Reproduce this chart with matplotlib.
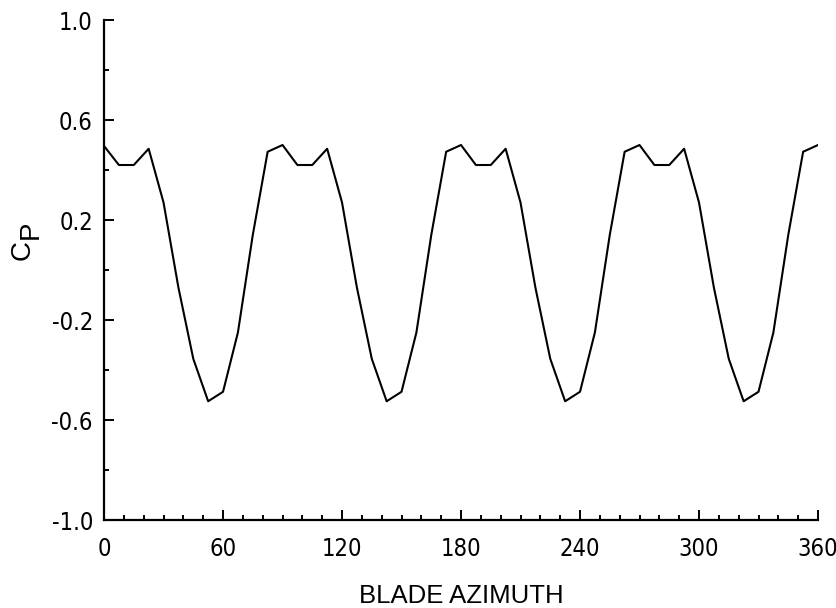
import numpy as np
import matplotlib.pyplot as plt
from matplotlib import font_manager
from matplotlib.ticker import MultipleLocator

# blade azimuth (deg), sampled every 7.5 deg
azimuth = [0, 7.5, 15, 22.5, 30, 37.5, 45, 52.5, 60, 67.5, 75, 82.5,
           90, 97.5, 105, 112.5, 120, 127.5, 135, 142.5, 150, 157.5, 165, 172.5,
           180, 187.5, 195, 202.5, 210, 217.5, 225, 232.5, 240, 247.5, 255, 262.5,
           270, 277.5, 285, 292.5, 300, 307.5, 315, 322.5, 330, 337.5, 345, 352.5,
           360]
cp = [0.496, 0.42, 0.42, 0.485, 0.27, -0.07, -0.355, -0.525, -0.487, -0.25, 0.14, 0.473,
      0.50, 0.42, 0.42, 0.485, 0.27, -0.07, -0.355, -0.525, -0.487, -0.25, 0.14, 0.473,
      0.50, 0.42, 0.42, 0.485, 0.27, -0.07, -0.355, -0.525, -0.487, -0.25, 0.14, 0.473,
      0.50, 0.42, 0.42, 0.485, 0.27, -0.07, -0.355, -0.525, -0.487, -0.25, 0.14, 0.473,
      0.50]

x_ticks = [0, 60, 120, 180, 240, 300, 360]
y_ticks = [-1.0, -0.6, -0.2, 0.2, 0.6, 1.0]


def narrow_font():
    # look for a condensed sans face for the tick numbers
    fl = font_manager.fontManager.ttflist
    for f in fl:
        if f.name == "Liberation Sans Narrow" and f.weight in (400, "normal") and f.style == "normal":
            return font_manager.FontProperties(fname=f.fname)
    for f in fl:
        if f.name == "DejaVu Sans" and "ondensed" in str(f.stretch) and f.style == "normal" \
                and f.weight in (400, "normal", 500, "book"):
            return font_manager.FontProperties(fname=f.fname)
    for f in fl:
        if ("Narrow" in f.name or "Condensed" in f.name) and f.style == "normal":
            return font_manager.FontProperties(fname=f.fname)
    return font_manager.FontProperties(family="DejaVu Sans")


fig = plt.figure(figsize=(8.37, 6.08), dpi=100)
ax = fig.add_axes([0.1243, 0.1447, 0.853, 0.8224])

ax.plot(azimuth, cp, color="black", lw=1.5)

ax.set_xlim(0, 360)
ax.set_ylim(-1.0, 1.0)
ax.set_xticks(x_ticks)
ax.set_yticks(y_ticks)
ax.xaxis.set_minor_locator(MultipleLocator(10))
ax.yaxis.set_minor_locator(MultipleLocator(0.2))

for s in ["top", "right"]:
    ax.spines[s].set_visible(False)
for s in ["left", "bottom"]:
    ax.spines[s].set_linewidth(1.6)

ax.tick_params(which="both", direction="in", width=1.4)
ax.tick_params(which="major", length=7.5)
ax.tick_params(which="minor", length=3.5)
ax.tick_params(axis="x", pad=12)
ax.tick_params(axis="y", pad=8)

fp = narrow_font()
fp.set_size(17)
ax.set_xticklabels([str(t) for t in x_ticks], fontproperties=fp)
ax.set_yticklabels(["%.1f" % t for t in y_ticks], fontproperties=fp)

ax.set_xlabel("BLADE AZIMUTH", fontsize=18.5, family=["Liberation Sans", "DejaVu Sans"],
              labelpad=17)

# C with the P set lower, same size as in the original
fig.text(22.5 / 837, 1 - 250 / 608, "C", rotation=90, ha="center", va="center",
         fontsize=20, family=["Liberation Sans", "DejaVu Sans"])
fig.text(31 / 837, 1 - 230 / 608, "P", rotation=90, ha="center", va="center",
         fontsize=20, family=["Liberation Sans", "DejaVu Sans"])

fig.savefig("out.png", dpi=100)
